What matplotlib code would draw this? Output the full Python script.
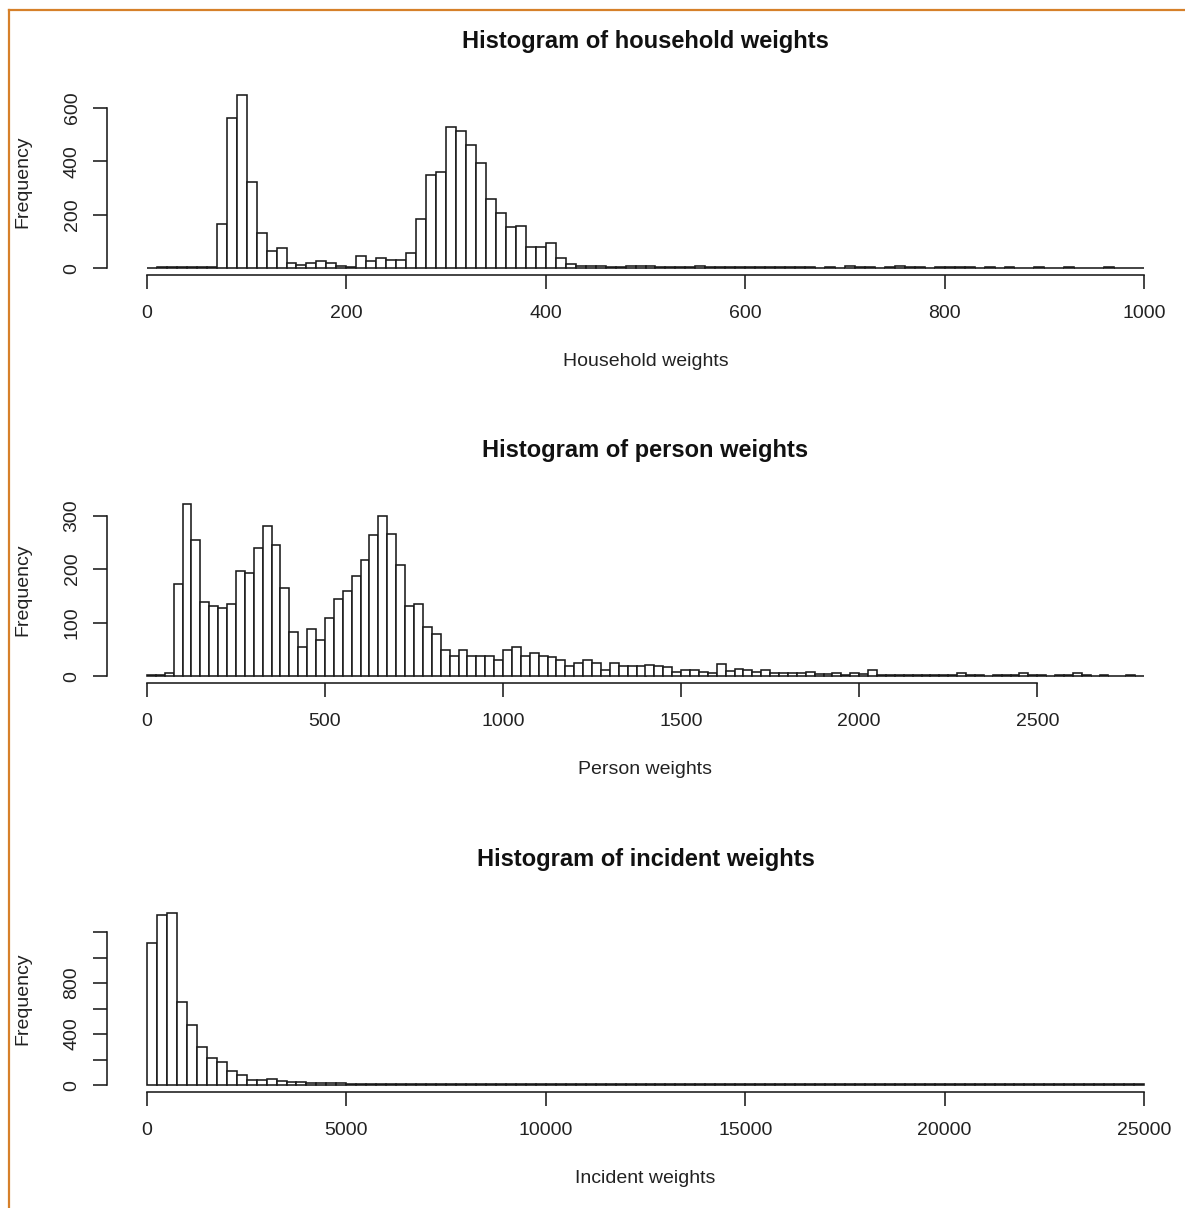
import numpy as np
import matplotlib
matplotlib.use("Agg")
import matplotlib.pyplot as plt
from matplotlib.lines import Line2D

plt.rcParams['font.family'] = ['Liberation Sans', 'DejaVu Sans']

# household weights: bins of 10 from 0 to 1000
hh_edges = np.arange(0, 1001, 10)
hh_counts = [2, 3, 3, 4, 3, 4, 5, 167, 563, 649,
             324, 130, 65, 74, 18, 10, 20, 25, 18, 8,
             5, 46, 26, 36, 30, 30, 55, 183, 350, 361,
             530, 515, 461, 395, 258, 205, 153, 159, 78, 78,
             93, 36, 16, 8, 6, 9, 5, 5, 6, 9,
             8, 4, 5, 4, 4, 7, 4, 3, 4, 3,
             4, 3, 3, 4, 4, 3, 3, 2, 3, 2,
             7, 3, 3, 2, 3, 6, 3, 3, 2, 3,
             5, 3, 3, 2, 3, 2, 3, 2, 2, 3,
             2, 2, 3, 2, 2, 2, 3, 2, 2, 2]

# person weights: bins of 25 from 0 to 2800
ps_edges = np.arange(0, 2801, 25)
ps_counts = [2, 3, 5, 172, 322, 254, 138, 132, 127, 135,
             197, 192, 239, 280, 246, 164, 83, 54, 88, 68,
             108, 144, 160, 188, 218, 264, 299, 266, 207, 132,
             135, 92, 79, 49, 38, 49, 38, 38, 38, 31,
             48, 55, 37, 44, 37, 36, 30, 18, 25, 30,
             24, 11, 24, 18, 18, 18, 20, 18, 17, 8,
             11, 11, 8, 6, 22, 10, 14, 12, 8, 12,
             6, 5, 6, 5, 7, 4, 4, 5, 3, 6,
             4, 12, 3, 3, 2, 3, 2, 3, 2, 3,
             2, 6, 2, 2, 1, 2, 2, 3, 6, 2,
             2, 1, 2, 2, 5, 2, 1, 2, 1, 1,
             2, 1]

# incident weights: bins of 250 from 0 to 25000
in_edges = np.arange(0, 25001, 250)
in_counts = [1116, 1333, 1351, 649, 471, 296, 209, 178, 113, 78,
             44, 44, 47, 30, 25, 22, 18, 16, 14, 13,
             12, 11, 10, 12, 10, 9, 10, 8, 9, 8,
             9, 8, 7, 9, 8, 7, 8, 7, 8, 7,
             7, 8, 7, 8, 9, 12, 8, 7, 8, 7,
             7, 8, 7, 7, 8, 7, 7, 7, 8, 7,
             7, 7, 8, 7, 7, 11, 7, 7, 7, 8,
             7, 7, 7, 8, 7, 7, 8, 7, 7, 7,
             7, 7, 7, 8, 7, 7, 7, 7, 7, 7,
             8, 7, 7, 7, 7, 7, 8, 7, 7, 7]

panels = [
    ("Histogram of household weights", "Household weights", hh_edges, hh_counts,
     np.arange(0, 1001, 200), np.arange(0, 601, 200), [0, 200, 400, 600]),
    ("Histogram of person weights", "Person weights", ps_edges, ps_counts,
     np.arange(0, 2501, 500), np.arange(0, 301, 100), [0, 100, 200, 300]),
    ("Histogram of incident weights", "Incident weights", in_edges, in_counts,
     np.arange(0, 25001, 5000), np.arange(0, 1201, 200), [0, 400, 800]),
]

W, H = 1185, 1208
fig = plt.figure(figsize=(W / 100, H / 100), dpi=100)
fig.patch.set_facecolor("white")

# axes boxes in pixels: left, top, right, bottom
boxes = [(107, 88, 1184, 275), (107, 497, 1184, 683), (107, 906, 1184, 1092)]
ink = "#1a1a1a"

for (title, xlab, edges, counts, xt, yt, ylab_vals), (l, t, r, b) in zip(panels, boxes):
    ax = fig.add_axes([l / W, 1 - b / H, (r - l) / W, (b - t) / H])
    ax.hist(edges[:-1], bins=edges, weights=counts, color="white",
            edgecolor=ink, linewidth=1.15)
    lo, hi = edges[0], edges[-1]
    ax.set_xlim(lo - 0.04 * (hi - lo), hi + 0.04 * (hi - lo))
    top = max(counts)
    ax.set_ylim(-0.04 * top, 1.04 * top)

    for s in ["top", "right"]:
        ax.spines[s].set_visible(False)
    ax.spines["bottom"].set_bounds(xt[0], xt[-1])
    ax.spines["left"].set_bounds(yt[0], yt[-1])
    for s in ["bottom", "left"]:
        ax.spines[s].set_linewidth(1.15)
        ax.spines[s].set_color(ink)

    ax.set_xticks(xt)
    ax.set_xticklabels([str(v) for v in xt])
    ax.set_yticks(yt)
    ax.set_yticklabels([str(v) if v in ylab_vals else "" for v in yt],
                       rotation=90, va="center")
    ax.tick_params(length=10, width=1.15, labelsize=14,
                   color=ink, labelcolor="#222222")
    ax.tick_params(axis="x", pad=11.5)
    ax.tick_params(axis="y", pad=9)

    ax.set_title(title, fontsize=17, fontweight="bold", pad=29, color="#111111")
    ax.set_xlabel(xlab, fontsize=14, labelpad=22.5, color="#222222")
    ax.set_ylabel("Frequency", fontsize=14, labelpad=23, color="#222222")

# orange frame on top and left edges
orange = "#D6802A"
fig.add_artist(Line2D([9 / W, 1], [1 - 10 / H, 1 - 10 / H], color=orange, linewidth=1.6))
fig.add_artist(Line2D([9 / W, 9 / W], [0, 1 - 10 / H], color=orange, linewidth=1.6))

fig.savefig("out.png", dpi=100, facecolor="white")
